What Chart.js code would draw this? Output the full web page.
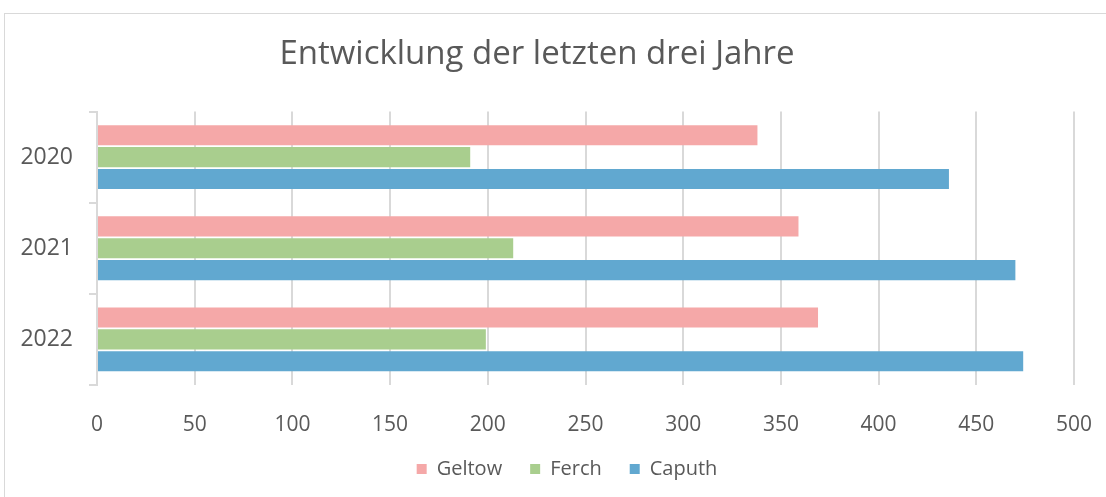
<!DOCTYPE html>
<html>
<head>
<meta charset="utf-8">
<script src="https://cdn.jsdelivr.net/npm/chart.js@4.4.0/dist/chart.umd.min.js"></script>
<style>
  html, body { margin: 0; padding: 0; background: #fff; }
  #frame { position: absolute; left: 4px; top: 13px; width: 1110px; height: 500px; border: 1px solid #d9d9d9; box-sizing: border-box; }
  #wrap { position: absolute; left: 0; top: 0; width: 1106px; height: 497px; }
</style>
</head>
<body>
<div id="frame"></div>
<div id="wrap"><canvas id="chartJahre" width="1106" height="497"></canvas></div>
<script>
// Daten
const jahre = ["2020", "2021", "2022"];
const geltow = [338, 359, 369];
const ferch = [191, 213, 199];
const caputh = [436, 470, 474];

const textFarbe = "#595959";
const gitterFarbe = "#d9d9d9";

const ctx = document.getElementById("chartJahre");

// Legende etwas nach rechts schieben (wie im Original)
const legendeVerschieben = {
  id: "legendeVerschieben",
  afterLayout(chart) {
    if (!chart.legend) return;
    chart.legend.left += 30;
    chart.legend.right += 30;
  }
};

new Chart(ctx, {
  type: "bar",
  data: {
    labels: jahre,
    datasets: [
      { label: "Geltow", data: geltow, backgroundColor: "#f5a8a8" },
      { label: "Ferch", data: ferch, backgroundColor: "#a9ce8e" },
      { label: "Caputh", data: caputh, backgroundColor: "#61a8d0" }
    ]
  },
  options: {
    indexAxis: "y",
    responsive: false,
    animation: false,
    categoryPercentage: 0.72,
    barPercentage: 0.92,
    layout: { padding: { left: 0, right: 32, top: 0, bottom: 8 } },
    plugins: {
      title: {
        display: true,
        text: "Entwicklung der letzten drei Jahre",
        color: textFarbe,
        font: { family: "Open Sans", size: 33, weight: "normal" },
        padding: { top: 35, bottom: 37 }
      },
      legend: {
        position: "bottom",
        labels: {
          color: textFarbe,
          font: { family: "Open Sans", size: 20 },
          boxWidth: 10,
          boxHeight: 10,
          padding: 28
        }
      },
      tooltip: { enabled: false }
    },
    scales: {
      x: {
        min: 0,
        max: 500,
        ticks: {
          stepSize: 50,
          color: textFarbe,
          font: { family: "Open Sans", size: 21 },
          padding: 27
        },
        grid: { color: gitterFarbe, lineWidth: 2, drawTicks: false },
        border: { display: false },
        afterFit: function(scale) {
          scale.height = 46;
          scale.paddingLeft = 0;
          scale.paddingRight = 0;
        }
      },
      y: {
        ticks: {
          color: textFarbe,
          font: { family: "Open Sans", size: 23 },
          padding: 16
        },
        grid: {
          color: gitterFarbe,
          lineWidth: 2,
          drawOnChartArea: false,
          drawTicks: true,
          tickLength: 8,
          offset: true
        },
        border: { display: true, color: gitterFarbe, width: 2 },
        afterFit: function(scale) { scale.width = 97; }
      }
    }
  },
  plugins: [legendeVerschieben]
});
</script>
</body>
</html>
